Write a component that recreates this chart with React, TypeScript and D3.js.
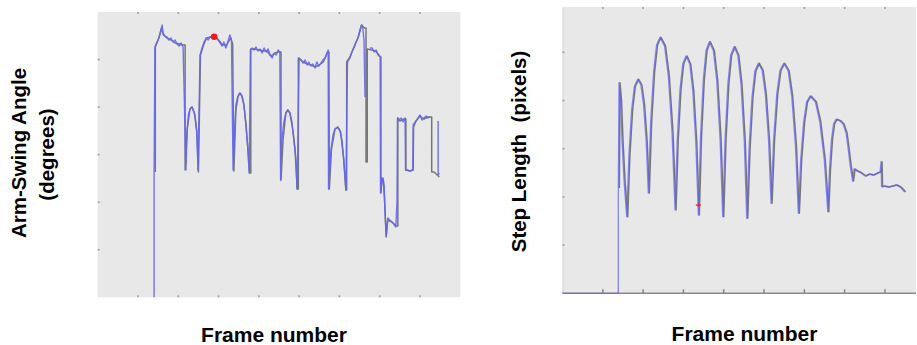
import React from 'react';
import * as d3 from 'd3';

// ---------- Left chart: arm-swing angle (degrees) vs frame ----------
const armFramesBlue = [
  140, 140, 142, 147, 152, 157, 160, 162, 167, 172, 177, 182, 187, 192, 197, 202, 207, 212,
  219, 222, 225, 229, 234, 239, 242, 246, 249,
  254, 259, 264, 269, 274, 279, 284, 289, 294, 299, 304, 309, 313, 318, 323, 328, 332, 336,
  340, 343, 348, 353, 358, 363, 368, 372, 376,
  379, 383, 388, 393, 398, 403, 408, 413, 418, 423, 428, 433, 438, 443, 448, 452, 454,
  457, 462, 467, 472, 477, 482, 487, 492, 495,
  500, 505, 510, 515, 520, 524, 529, 534, 539, 544, 549, 554, 559, 564, 569, 572, 573,
  579, 584, 589, 596, 601, 606, 611, 616,
  620, 626, 631, 636, 641, 646, 651, 655, 658, 661, 663.5, 670,
  676, 681, 686, 691, 696, 701, 702, 704, 708, 711, 713, 716, 720, 725, 733, 740, 743,
  744, 748, 753, 758, 763, 764, 770, 775, 782, 783, 788, 792, 795, 800, 805, 810, 815, 820, 825, 835,
  845, 845, 848,
];
const armAngleBlue: (number | null)[] = [
  0, 26.35, 52.64, 53.69, 54.53, 56.21, 57.27, 55.58, 54.95, 54.74, 54.11, 54.53, 53.69, 54.11, 53.27, 52.85, 53.48, 52.64,
  26.77, 35.18, 38.34, 39.6, 40.02, 38.97, 37.92, 34.76, 26.77,
  50.96, 52.43, 53.69, 54.53, 54.11, 54.74, 54.95, 54.95, 54.74, 54.11, 53.48, 52.85, 53.69, 52.43, 53.69, 55.16, 54.11, 26.77,
  35.18, 40.44, 42.33, 42.97, 42.33, 40.44, 36.24, 32.03, 26.14,
  52.01, 52.43, 52.01, 52.64, 51.8, 52.22, 51.38, 52.43, 51.59, 52.22, 50.96, 50.33, 51.38, 50.96, 52.01, 51.59, 24.67,
  33.08, 36.87, 38.76, 39.39, 38.76, 36.87, 33.08, 28.88, 22.78,
  50.33, 49.91, 49.27, 49.91, 48.85, 49.48, 48.64, 49.06, 48.22, 49.48, 48.64, 49.27, 49.91, 50.33, 51.38, 52.01, 22.78,
  30.98, 34.13, 35.39, 35.81, 35.18, 33.08, 28.88, 22.57,
  49.48, 50.33, 51.59, 52.43, 53.69, 54.53, 56.21, 57.27, 56.64, 54.11, 42.12, null,
  52.43, 52.43, 51.59, 52.01, 50.96, 50.54, 21.93, 23.62, 25.09, 23.41, 18.36, 12.89, 16.68, 16.26, 15.63, 14.78, 20.46,
  37.71, 37.29, 37.71, 36.87, 37.71, 26.77, 26.77, 26.56, 26.77, 36.24, 36.87, 37.29, 37.71, 38.34, 37.29, 37.71, 38.13, 37.71, 37.92, null,
  37.08, 25.72, 26.14,
];
const armFramesGray = [
  143, 143, 150, 159, 163, 172, 182, 192, 202, 210, 217, 217, 222, 229, 234, 240, 246, 250,
  255, 262, 270, 280, 290, 300, 310, 320, 330, 335, 338,
  343, 348, 353, 358, 363, 368, 373, 377, 380, 380,
  390, 400, 410, 420, 430, 440, 448, 455, 455,
  460, 467, 472, 477, 484, 490, 495, 498, 498,
  510, 520, 530, 540, 550, 560, 570, 574, 575,
  580, 589, 596, 603, 610, 616, 618, 618,
  626, 636, 646, 655, 662, 666, 666, 669, 669,
  680, 690, 700, 703, 703, 706, 709, 712, 716, 720, 730, 741, 745, 745,
  750, 760, 765, 765, 775, 783, 784, 790, 800, 810, 820, 829, 829, 835, 840, 848,
];
const armAngleGray = [
  26.35, 52.64, 54.11, 56.64, 55.16, 54.53, 54.11, 53.48, 53.27, 53.06, 53.06, 26.77, 35.18, 39.6, 40.02, 38.76, 34.76, 26.35,
  50.96, 52.85, 54.53, 54.74, 54.95, 54.11, 53.06, 53.06, 54.53, 53.27, 26.56,
  39.39, 42.12, 42.97, 42.33, 40.44, 36.24, 30.98, 26.14, 26.14, 52.22,
  52.22, 52.01, 51.8, 51.8, 50.75, 51.38, 51.59, 51.59, 24.67,
  33.08, 38.76, 39.39, 38.76, 35.39, 30.98, 22.78, 22.78, 50.33,
  49.48, 49.06, 48.85, 48.43, 48.85, 49.48, 51.38, 51.59, 22.78,
  30.98, 35.39, 35.81, 34.76, 29.5, 22.57, 22.57, 49.48,
  50.54, 52.64, 54.53, 57.27, 56.64, 56.64, 28.45, 28.45, 52.22,
  52.01, 51.8, 50.75, 50.54, 21.93, 25.09, 24.67, 20.46, 12.68, 16.26, 15.84, 14.99, 14.99, 37.71,
  37.08, 37.5, 37.5, 26.77, 26.56, 26.77, 35.81, 37.08, 38.13, 37.5, 37.92, 37.92, 26.35, 26.35, 25.93, 25.3,
];
const armMarkerFrame = [289];
const armMarkerAngle = [54.8];
const armYTicks = [10, 20, 30, 40, 50];

// ---------- Right chart: step length (pixels) vs frame ----------
const stepFrames = [
  0, 138.5, 138.5, 140.2, 143.9, 147.6, 152.6, 159.3,
  164.8, 171.6, 178.4, 186.6, 194.5, 201, 207.7, 212.9,
  218.6, 226.1, 233.3, 241.9, 253.1, 262.4, 271.7, 279.2,
  284.6, 291.4, 298.3, 306.5, 315.6, 323.3, 330.8, 337,
  342.4, 349.3, 356.1, 364.3, 374.2, 382.6, 390.8, 397.5,
  403.2, 410.2, 417.1, 425.6, 435, 442.9, 450.9, 457.1,
  462.8, 470, 477.2, 485.9, 495.3, 503.2, 511.2, 517.4,
  523.6, 531.5, 539.5, 548.9, 559.8, 568.7, 577.9, 585.1,
  590.8, 598.3, 605.5, 614.1, 627.3, 638.2, 649.4, 658.1,
  662.3, 667.3, 672.5, 678.7, 688.6, 696.1, 703.5, 708.5, 713.5, 719.6,
  723.3, 730.8, 740.7, 750.6, 760.5, 770.5, 780.4, 787.9, 790.3, 791.6,
  797.8, 807.7, 817.6, 827.6, 837.5, 844.9, 848.6,
];
const stepLength = [
  0, 0, 21.85, 43.69, 40.1, 31.8, 23.51, 15.89,
  28.71, 38.13, 42.97, 44.4, 43.22, 39.21, 31.43, 20.81,
  35.35, 46.0, 51.49, 53.11, 51.33, 45.23, 33.4, 17.28,
  31.66, 42.2, 47.63, 49.23, 47.57, 41.97, 31.08, 16.24,
  32.43, 44.29, 50.39, 52.2, 50.37, 44.21, 32.22, 15.89,
  31.76, 43.4, 49.4, 51.16, 49.38, 43.32, 31.58, 15.56,
  30.02, 40.64, 46.1, 47.72, 46.27, 41.33, 31.74, 18.67,
  31.74, 41.33, 46.27, 47.72, 46.16, 40.87, 30.6, 16.6,
  27.55, 35.58, 39.71, 40.93, 39.73, 35.64, 27.74, 16.93,
  25.56, 31.89, 35.15, 36.1, 35.75, 35.12, 33.26, 30.15, 26.62, 23.3,
  25.79, 25.37, 24.96, 24.34, 24.75, 24.54, 24.96, 25.17, 27.3, 22.12,
  22.26, 22.05, 22.26, 22.47, 22.05, 21.43, 21.02,
];
const stepMarkerFrame = [337];
const stepMarkerLength = [18.3];
const stepYTicks = [10, 20, 30, 40, 50];

const xTickFrames = [100, 200, 300, 400, 500, 600, 700, 800];

const xLabel = 'Frame number';
const armLabel1 = 'Arm-Swing Angle';
const armLabel2 = '(degrees)';
const stepLabel = 'Step Length  (pixels)';

const BG = '#e8e8e8';
const BLUE = '#6464f2';
const GRAY = '#777777';
const TICK = '#a0a0a0';
const FONT = "'Liberation Sans', Arial, sans-serif";

export default function App() {
  // left scales
  const lx = d3.scaleLinear().domain([0, 900]).range([97.7, 460.3]);
  const ly = d3.scaleLinear().domain([0, 60]).range([297.3, 12]);
  // right scales
  const rx = d3.scaleLinear().domain([0, 877]).range([562.5, 916]);
  const ry = d3.scaleLinear().domain([0, 59.4]).range([293.3, 7]);

  const blueLeft = d3
    .line<number>()
    .defined((i) => armAngleBlue[i] != null)
    .x((i) => lx(armFramesBlue[i]))
    .y((i) => ly(armAngleBlue[i] as number))(armFramesBlue.map((_, i) => i));
  const grayLeft = d3
    .line<number>()
    .x((i) => lx(armFramesGray[i]))
    .y((i) => ly(armAngleGray[i]))(armFramesGray.map((_, i) => i));

  const stepLine = d3
    .line<number>()
    .x((i) => rx(stepFrames[i]))
    .y((i) => ry(stepLength[i]));
  const stepIdx = stepFrames.map((_, i) => i);
  const stepPathAll = stepLine(stepIdx);
  const stepPathUpper = stepLine(stepIdx.slice(2));

  const [lx0, lx1] = lx.range();
  const [ly0, ly1] = ly.range();
  const [rx0, rx1] = rx.range();
  const [ry0, ry1] = ry.range();

  return (
    <svg
      width={917}
      height={345}
      style={{ position: 'absolute', left: 0, top: 0, background: '#fff' }}
      fontFamily={FONT}
    >
      {/* Left panel */}
      <rect x={lx0} y={ly1} width={lx1 - lx0} height={ly0 - ly1} fill={BG} />
      {xTickFrames.map((f) => (
        <g key={'lt' + f}>
          <rect x={lx(f) - 0.8} y={ly1} width={1.6} height={2} fill={TICK} />
          <rect x={lx(f) - 0.8} y={ly0 - 2} width={1.6} height={2} fill={TICK} />
        </g>
      ))}
      {armYTicks.map((v) => (
        <rect key={'ly' + v} x={lx0} y={ly(v) - 0.8} width={2} height={1.6} fill={TICK} />
      ))}
      <path d={grayLeft || ''} fill="none" stroke={GRAY} strokeWidth={1.5} strokeLinejoin="round" />
      <path d={blueLeft || ''} fill="none" stroke={BLUE} strokeWidth={1.4} strokeLinejoin="round" opacity={0.9} />
      {armMarkerFrame.map((f, i) => (
        <circle key={'am' + i} cx={lx(f)} cy={ly(armMarkerAngle[i])} r={3.3} fill="#f01818" />
      ))}

      {/* Right panel */}
      <rect x={rx0} y={ry1} width={rx1 - rx0} height={ry0 - ry1} fill={BG} />
      <line x1={rx0 + 0.5} x2={rx0 + 0.5} y1={ry1} y2={ry0} stroke="#d6d6d6" strokeWidth={1} />
      <line x1={rx0} x2={rx1} y1={ry0} y2={ry0} stroke="#8a8a8a" strokeWidth={1.6} />
      {xTickFrames.map((f) => (
        <g key={'rt' + f}>
          <rect x={rx(f) - 0.8} y={ry1} width={1.6} height={2} fill={TICK} />
          <rect x={rx(f) - 0.8} y={ry0 - 4} width={1.6} height={4} fill="#8a8a8a" />
        </g>
      ))}
      {stepYTicks.map((v) => (
        <rect key={'ry' + v} x={rx0} y={ry(v) - 0.8} width={2} height={1.6} fill={TICK} />
      ))}
      <path
        d={stepPathUpper || ''}
        fill="none"
        stroke={GRAY}
        strokeWidth={1.5}
        strokeLinejoin="round"
        transform="translate(1,0)"
      />
      <path d={stepPathAll || ''} fill="none" stroke={BLUE} strokeWidth={1.3} strokeLinejoin="round" opacity={0.75} />
      {stepMarkerFrame.map((f, i) => (
        <g key={'sm' + i} stroke="#e02020" strokeWidth={1.2}>
          <line x1={rx(f) - 2.5} x2={rx(f) + 2.5} y1={ry(stepMarkerLength[i])} y2={ry(stepMarkerLength[i])} />
          <line x1={rx(f)} x2={rx(f)} y1={ry(stepMarkerLength[i]) - 1.5} y2={ry(stepMarkerLength[i]) + 1.5} />
        </g>
      ))}

      {/* Labels */}
      <text x={274} y={341.5} textAnchor="middle" fontSize={21} fontWeight="bold" fill="#000">
        {xLabel}
      </text>
      <text x={744.5} y={340.8} textAnchor="middle" fontSize={21} fontWeight="bold" fill="#000">
        {xLabel}
      </text>
      <text
        transform="translate(26.4,153) rotate(-90)"
        textAnchor="middle"
        fontSize={20.5}
        fontWeight="bold"
        fill="#000"
      >
        {armLabel1}
      </text>
      <text
        transform="translate(53.5,154.5) rotate(-90)"
        textAnchor="middle"
        fontSize={20.5}
        fontWeight="bold"
        fill="#000"
      >
        {armLabel2}
      </text>
      <text
        transform="translate(526.4,151.5) rotate(-90)"
        textAnchor="middle"
        fontSize={20.5}
        fontWeight="bold"
        fill="#000"
        style={{ whiteSpace: 'pre' }}
      >
        {stepLabel}
      </text>
    </svg>
  );
}
